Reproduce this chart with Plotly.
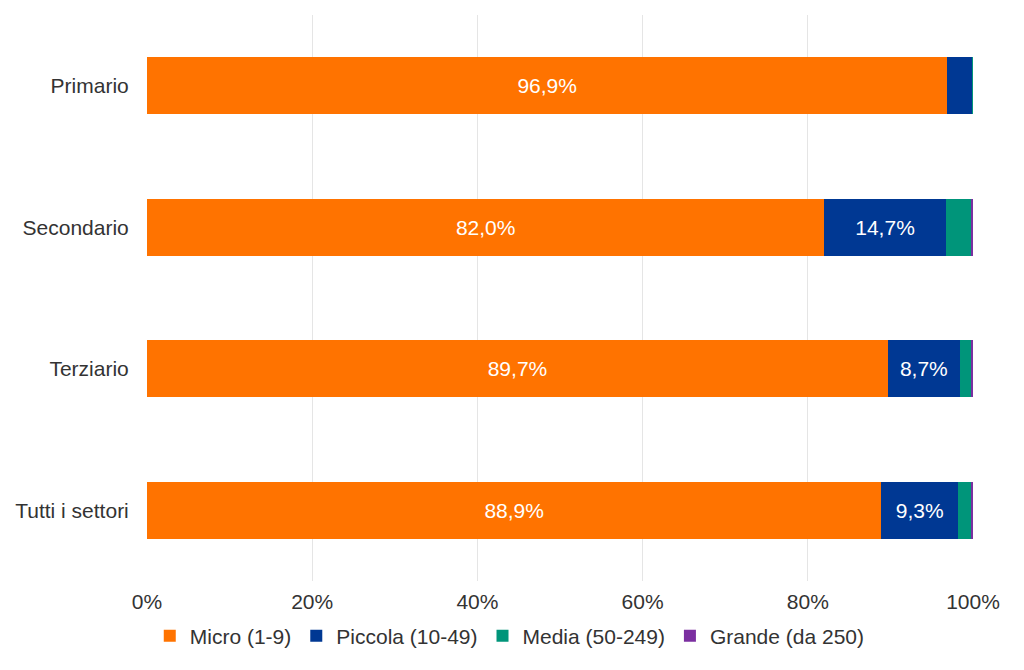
import plotly.graph_objects as go

categories = ["Primario", "Secondario", "Terziario", "Tutti i settori"]
series_names = ["Micro (1-9)", "Piccola (10-49)", "Media (50-249)", "Grande (da 250)"]
micro = [96.9, 82.0, 89.7, 88.9]
piccola = [3.0, 14.7, 8.7, 9.3]
media = [0.1, 3.0, 1.4, 1.6]
grande = [0.0, 0.3, 0.2, 0.2]
colors = ["#FF7300", "#003893", "#00957A", "#7B2FA0"]
x_ticks = [0, 20, 40, 60, 80, 100]

values = [micro, piccola, media, grande]
FONT = "Liberation Sans, Arial, sans-serif"
FS = 21


def lab(v):
    if v < 5:
        return ""
    return f"{v:.1f}".replace(".", ",") + "%"


fig = go.Figure()
for name, vals, col in zip(series_names, values, colors):
    fig.add_trace(go.Bar(
        y=categories, x=vals, name=name, orientation="h",
        marker=dict(color=col, line=dict(width=0)),
        text=[lab(v) for v in vals], textposition="inside",
        insidetextanchor="middle",
        textfont=dict(color="white", size=FS, family=FONT),
        hoverinfo="skip",
    ))

fig.update_layout(
    barmode="stack",
    bargap=0.6,
    width=1024, height=670,
    margin=dict(l=139, r=59, t=7, b=97),
    paper_bgcolor="white", plot_bgcolor="white",
    font=dict(family=FONT, size=FS, color="#333333"),
    uniformtext=dict(minsize=10, mode="hide"),
    legend=dict(orientation="h", x=0.49, xanchor="center", xref="container",
                y=42 / 670, yanchor="middle", yref="container",
                font=dict(size=FS, color="#333333"), traceorder="normal",
                tracegroupgap=0),
    xaxis=dict(range=[0, 100], tickvals=x_ticks, ticktext=[f"{t}%" for t in x_ticks],
               showgrid=True, gridcolor="#E5E5E5", gridwidth=1, zeroline=False,
               showline=False, ticks="", ticklabelstandoff=6, automargin=False,
               tickfont=dict(size=FS, color="#333333")),
    yaxis=dict(categoryorder="array", categoryarray=categories, autorange="reversed",
               showgrid=False, zeroline=False, showline=False, ticks="outside",
               ticklen=13, tickcolor="rgba(0,0,0,0)", automargin=False,
               tickfont=dict(size=FS, color="#333333")),
)

fig.write_html("out.html")
